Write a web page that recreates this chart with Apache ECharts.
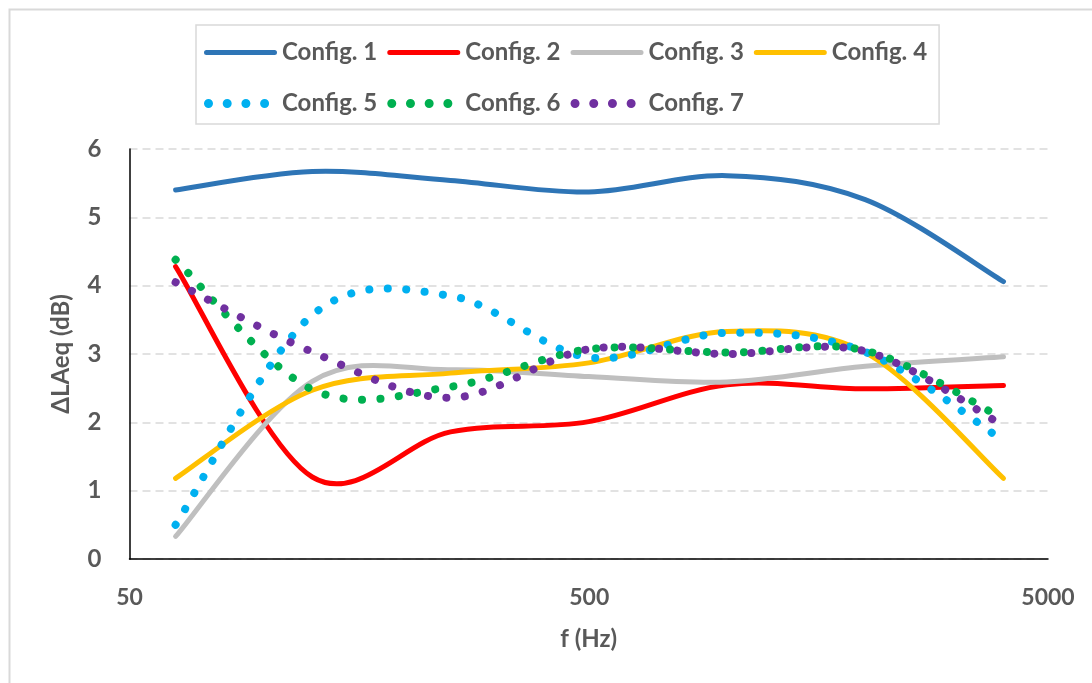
<!DOCTYPE html>
<html>
<head>
<meta charset="utf-8">
<script src="https://cdn.jsdelivr.net/npm/echarts@6/dist/echarts.min.js"></script>
<style>
  html, body { margin: 0; padding: 0; background: #fff; }
  #main { width: 1092px; height: 683px; }
</style>
</head>
<body>
<div id="main"></div>
<script>
// octave band centre frequencies (Hz)
var freqs = [63, 125, 250, 500, 1000, 2000, 4000];

var config1 = [5.40, 5.67, 5.54, 5.37, 5.61, 5.26, 4.06];
var config2 = [4.28, 1.20, 1.86, 2.01, 2.55, 2.49, 2.54];
var config3 = [0.33, 2.60, 2.77, 2.67, 2.59, 2.82, 2.96];
var config4 = [1.18, 2.47, 2.72, 2.87, 3.33, 3.02, 1.18];
var config5 = [0.50, 3.57, 3.85, 2.95, 3.31, 3.03, 1.73];
var config6 = [4.38, 2.48, 2.52, 3.07, 3.02, 3.05, 2.05];
var config7 = [4.05, 3.03, 2.36, 3.07, 3.00, 3.04, 1.95];

var names = ['Config. 1', 'Config. 2', 'Config. 3', 'Config. 4', 'Config. 5', 'Config. 6', 'Config. 7'];
var values = [config1, config2, config3, config4, config5, config6, config7];
var colors = ['#2E75B6', '#FF0000', '#BFBFBF', '#FFC000', '#00B0F0', '#00B050', '#7030A0'];
var dotted = [false, false, false, false, true, true, true];

var xTicks = [50, 500, 5000];

var font = 'Lato, "Open Sans", sans-serif';
var textColor = '#595959';

// legend glyphs, 73 x 41 box (the bare M..Z subpaths only pad the box)
var pad = 'M0,0L0,0ZM73,41L73,41Z';
var solidIcon = 'path://M2.5,18L70.5,18A2.5,2.5,0,0,1,70.5,23L2.5,23A2.5,2.5,0,0,1,2.5,18Z' + pad;
function dot(cx) {
    return 'M' + (cx - 4.5) + ',20.5A4.5,4.5,0,1,0,' + (cx + 4.5) + ',20.5A4.5,4.5,0,1,0,' + (cx - 4.5) + ',20.5Z';
}
var dotIcon = 'path://' + dot(4.5) + dot(23.2) + dot(41.9) + dot(60.6) + pad;

// Excel-like smoothed line (cardinal spline through the points)
function smoothPath(pts) {
    var d = 'M' + pts[0][0] + ',' + pts[0][1];
    for (var i = 0; i < pts.length - 1; i++) {
        var p0 = pts[Math.max(i - 1, 0)];
        var p1 = pts[i];
        var p2 = pts[i + 1];
        var p3 = pts[Math.min(i + 2, pts.length - 1)];
        var c1x = p1[0] + (p2[0] - p0[0]) / 6;
        var c1y = p1[1] + (p2[1] - p0[1]) / 6;
        var c2x = p2[0] - (p3[0] - p1[0]) / 6;
        var c2y = p2[1] - (p3[1] - p1[1]) / 6;
        d += 'C' + c1x + ',' + c1y + ',' + c2x + ',' + c2y + ',' + p2[0] + ',' + p2[1];
    }
    return d;
}

var myChart = echarts.init(document.getElementById('main'));

var series = names.map(function (name, k) {
    return {
        name: name,
        type: 'custom',
        coordinateSystem: 'cartesian2d',
        clip: false,
        encode: { x: 0, y: 1 },
        data: freqs.map(function (f, i) { return [Math.log10(f), values[k][i]]; }),
        itemStyle: { color: colors[k] },
        renderItem: function (params, api) {
            if (params.dataIndex !== 0) return null;
            var pts = freqs.map(function (f, i) {
                return api.coord([Math.log10(f), values[k][i]]);
            });
            return {
                type: 'path',
                shape: { pathData: smoothPath(pts) },
                style: dotted[k]
                    ? { fill: 'none', stroke: colors[k], lineWidth: 8, lineDash: [0.1, 18.4], lineCap: 'round' }
                    : { fill: 'none', stroke: colors[k], lineWidth: 5, lineCap: 'round', lineJoin: 'round' }
            };
        }
    };
});

myChart.setOption({
    animation: false,
    backgroundColor: '#fff',
    textStyle: { fontFamily: font },
    graphic: [{
        type: 'rect',
        shape: { x: 9.5, y: 9.5, width: 1200, height: 1000 },
        style: { fill: 'none', stroke: '#d9d9d9', lineWidth: 2 },
        z: -10
    }],
    legend: {
        left: 196,
        top: 25,
        width: 760,
        padding: [7, 12, 0, 8],
        itemWidth: 73,
        itemHeight: 41,
        itemGap: 10,
        borderColor: '#d9d9d9',
        borderWidth: 1.5,
        backgroundColor: '#fff',
        textStyle: { fontFamily: font, fontSize: 24, fontWeight: 'bold', color: textColor },
        data: names.map(function (n, k) {
            return { name: n, icon: dotted[k] ? dotIcon : solidIcon };
        })
    },
    grid: {
        left: 129.5,
        right: 44,
        top: 149,
        bottom: 124,
        containLabel: false
    },
    xAxis: {
        type: 'value',
        min: Math.log10(xTicks[0]),
        max: Math.log10(xTicks[xTicks.length - 1]),
        interval: 1,
        name: 'f (Hz)',
        nameLocation: 'middle',
        nameGap: 68,
        nameMoveOverlap: false,
        nameTextStyle: { fontFamily: font, fontSize: 24, fontWeight: 'bold', color: textColor },
        axisLine: { show: true, lineStyle: { color: '#000', width: 1.5 } },
        axisTick: { show: false },
        splitLine: { show: false },
        axisLabel: {
            margin: 27,
            fontFamily: font,
            fontSize: 23,
            fontWeight: 'bold',
            color: textColor,
            formatter: function (v) {
                var best = xTicks[0];
                xTicks.forEach(function (t) {
                    if (Math.abs(Math.log10(t) - v) < Math.abs(Math.log10(best) - v)) best = t;
                });
                return String(best);
            }
        }
    },
    yAxis: {
        type: 'value',
        min: 0,
        max: 6,
        interval: 1,
        name: 'ΔLAeq (dB)',
        nameLocation: 'middle',
        nameGap: 56,
        nameMoveOverlap: false,
        nameTextStyle: { fontFamily: font, fontSize: 24, fontWeight: 'bold', color: textColor },
        axisLine: { show: true, lineStyle: { color: '#000', width: 1.5 } },
        axisTick: { show: false },
        splitLine: { show: true, lineStyle: { color: '#d9d9d9', width: 1.5, type: [8, 5] } },
        axisLabel: {
            margin: 28,
            fontFamily: font,
            fontSize: 24,
            fontWeight: 'bold',
            color: textColor
        }
    },
    series: series
});
</script>
</body>
</html>
